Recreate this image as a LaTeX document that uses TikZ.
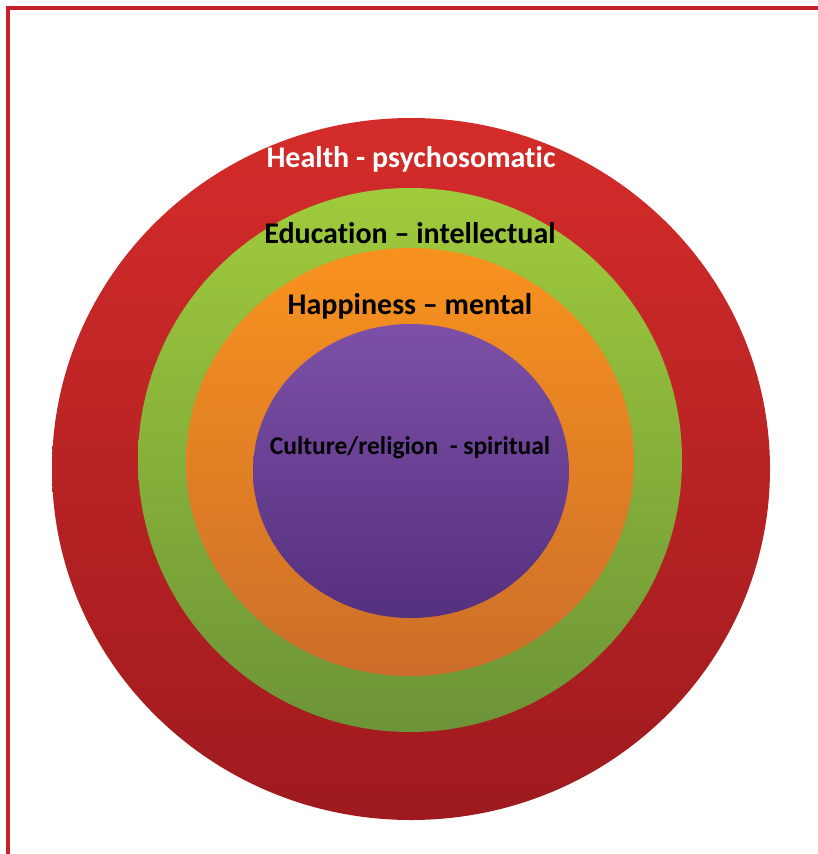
\documentclass[tikz,border=0pt]{standalone}
\usepackage{fontspec}
\setmainfont{Carlito}[Ligatures={TeX,NoCommon}]
\definecolor{framered}{HTML}{C8202A}
\definecolor{healthtop}{HTML}{D42C2A}
\definecolor{healthbot}{HTML}{9E1A1E}
\definecolor{edutop}{HTML}{A0CB3C}
\definecolor{edubot}{HTML}{6C9438}
\definecolor{happytop}{HTML}{F8921E}
\definecolor{happybot}{HTML}{CC6E2A}
\definecolor{culttop}{HTML}{7C50A8}
\definecolor{cultbot}{HTML}{55307E}
\begin{document}
\begin{tikzpicture}[x=1pt, y=-1pt]
  \useasboundingbox (0,0) rectangle (818,854);
  % Frame (top and left edges only)
  \draw[framered, line width=3.5pt] (8,854) -- (8,8) -- (818,8);
  % Health ring (outer)
  \shade[top color=healthtop, bottom color=healthbot] (411,469) ellipse [x radius=359, y radius=351];
  % Education ring
  \shade[top color=edutop, bottom color=edubot] (410,460) ellipse [x radius=272, y radius=272];
  % Happiness ring
  \shade[top color=happytop, bottom color=happybot] (410,462) ellipse [x radius=224, y radius=214];
  % Culture core
  \shade[top color=culttop, bottom color=cultbot] (411,471) ellipse [x radius=158, y radius=147];
  % Labels
  \node[font=\bfseries\fontsize{30}{34}\selectfont, white] (health) at (411,159) {Health - psychosomatic};
  \node[font=\bfseries\fontsize{30}{34}\selectfont] (education) at (410,233) {Education -- intellectual};
  \node[font=\bfseries\fontsize{30}{34}\selectfont] (happiness) at (410,306) {Happiness -- mental};
  \node[font=\bfseries\fontsize{25.5}{29}\selectfont] (culture) at (410,448) {Culture/religion\ \ - spiritual};
\end{tikzpicture}
\end{document}
